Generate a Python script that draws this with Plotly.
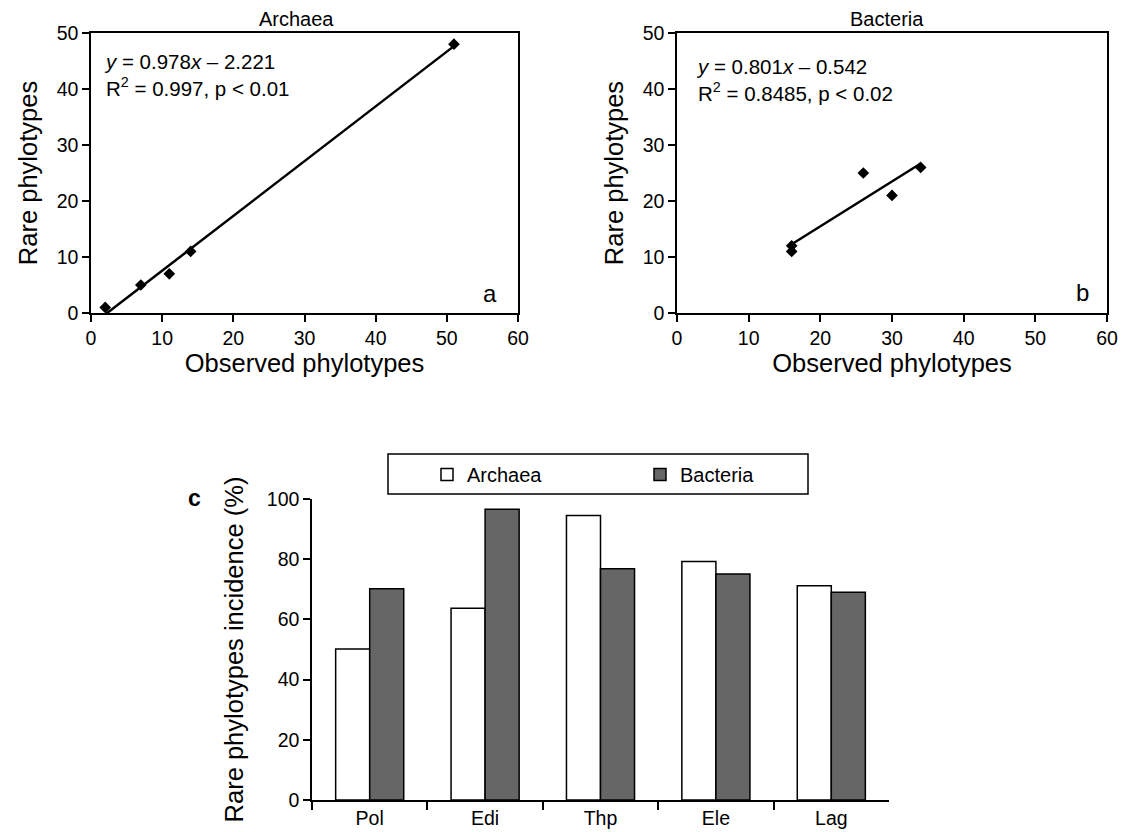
import numpy as np
import plotly.graph_objects as go

# ---- data ----
arch_obs = [2, 7, 11, 14, 51]
arch_rare = [1, 5, 7, 11, 48]
arch_slope, arch_int = 0.978, -2.221

bact_obs = [16, 16, 26, 30, 34]
bact_rare = [11, 12, 25, 21, 26]
bact_slope, bact_int = 0.801, -0.542

sites = ["Pol", "Edi", "Thp", "Ele", "Lag"]
arch_inc = [50.2, 63.7, 94.5, 79.2, 71.2]
bact_inc = [70.2, 96.6, 76.8, 75.1, 69.0]

W, H = 1129, 832
FONT = "Liberation Sans, Arial, Helvetica, sans-serif"

def px(x):
    return x / W

def py(y):
    return 1 - y / H

fig = go.Figure()

# panel a
xa = np.array([min(arch_obs), max(arch_obs)], dtype=float)
fig.add_trace(go.Scatter(x=xa, y=arch_slope * xa + arch_int, mode="lines",
                         line=dict(color="black", width=2.5), showlegend=False,
                         xaxis="x", yaxis="y"))
fig.add_trace(go.Scatter(x=arch_obs, y=arch_rare, mode="markers",
                         marker=dict(symbol="diamond", size=9, color="black"),
                         showlegend=False, xaxis="x", yaxis="y"))
# panel b
xb = np.array([min(bact_obs), max(bact_obs)], dtype=float)
fig.add_trace(go.Scatter(x=xb, y=bact_slope * xb + bact_int, mode="lines",
                         line=dict(color="black", width=2.5), showlegend=False,
                         xaxis="x2", yaxis="y2"))
fig.add_trace(go.Scatter(x=bact_obs, y=bact_rare, mode="markers",
                         marker=dict(symbol="diamond", size=9, color="black"),
                         showlegend=False, xaxis="x2", yaxis="y2"))
# panel c
fig.add_trace(go.Bar(x=sites, y=arch_inc, name="Archaea",
                     marker=dict(color="white", line=dict(color="black", width=1.5)),
                     xaxis="x3", yaxis="y3"))
fig.add_trace(go.Bar(x=sites, y=bact_inc, name="Bacteria",
                     marker=dict(color="#666666", line=dict(color="black", width=1.5)),
                     xaxis="x3", yaxis="y3"))

tickfont = dict(family=FONT, size=19.5, color="black")
titlefont = dict(family=FONT, size=25.5, color="black")

def sc_x(dom, anchor):
    return dict(domain=dom, anchor=anchor, range=[0, 60], dtick=10, tick0=0,
                automargin=False,
                showline=True, linecolor="black", linewidth=1.5, mirror=True,
                ticks="outside", ticklen=7, tickwidth=1.5, tickcolor="black",
                showgrid=False, zeroline=False, tickfont=tickfont,
                title=dict(text="Observed phylotypes", font=titlefont, standoff=4))

def sc_y(dom, anchor):
    return dict(domain=dom, anchor=anchor, range=[0, 50], dtick=10, tick0=0,
                automargin=False,
                showline=True, linecolor="black", linewidth=1.5, mirror=True,
                ticks="outside", ticklen=7, tickwidth=1.5, tickcolor="black",
                showgrid=False, zeroline=False, tickfont=tickfont,
                title=dict(text="Rare phylotypes", font=titlefont, standoff=12))

ydom_top = [py(313), py(33)]
fig.update_layout(
    width=W, height=H, margin=dict(l=0, r=0, t=0, b=0, autoexpand=False),
    paper_bgcolor="white", plot_bgcolor="white",
    font=dict(family=FONT, color="black"),
    xaxis=sc_x([px(91), px(518)], "y"),
    yaxis=sc_y(ydom_top, "x"),
    xaxis2=sc_x([px(677), px(1107)], "y2"),
    yaxis2=sc_y(ydom_top, "x2"),
    xaxis3=dict(domain=[px(312), px(889)], anchor="y3", type="category",
                automargin=False,
                tickson="boundaries", showline=True, linecolor="black", linewidth=1.5,
                ticks="outside", ticklen=8, tickwidth=1.5, tickcolor="black",
                showgrid=False, tickfont=tickfont),
    yaxis3=dict(domain=[py(800), py(499)], anchor="x3", range=[0, 100], dtick=20,
                automargin=False,
                showline=True, linecolor="black", linewidth=1.5,
                ticks="outside", ticklen=7, tickwidth=1.5, tickcolor="black",
                showgrid=False, zeroline=False, tickfont=tickfont,
                title=dict(text="Rare phylotypes incidence (%)", font=titlefont, standoff=16)),
    barmode="group", bargap=0.41, bargroupgap=0,
    showlegend=True,
    legend=dict(orientation="h", x=px(427), y=py(455), xanchor="left", yanchor="top",
                font=dict(family=FONT, size=20, color="black"),
                entrywidth=168, entrywidthmode="pixels", bgcolor="rgba(0,0,0,0)",
                traceorder="normal"),
)

anns = [
    dict(text="Archaea", x=px(296), y=py(19), font=dict(size=20)),
    dict(text="Bacteria", x=px(887), y=py(19), font=dict(size=20)),
    dict(text="<i>y</i> = 0.978<i>x</i> – 2.221<br>R<sup>2</sup> = 0.997, p &lt; 0.01",
         x=px(102), y=py(75), xanchor="left", align="left", font=dict(size=20.5)),
    dict(text="<i>y</i> = 0.801<i>x</i> – 0.542<br>R<sup>2</sup> = 0.8485, p &lt; 0.02",
         x=px(694), y=py(80), xanchor="left", align="left", font=dict(size=20.5)),
    dict(text="a", x=px(490), y=py(293), font=dict(size=24)),
    dict(text="b", x=px(1082), y=py(292), font=dict(size=24)),
    dict(text="<b>c</b>", x=px(194), y=py(498), font=dict(size=23)),
]
for a in anns:
    a.setdefault("xanchor", "center")
    a.setdefault("yanchor", "middle")
    a["xref"] = "paper"
    a["yref"] = "paper"
    a["showarrow"] = False
    a["font"] = dict(family=FONT, color="black", **a["font"])
fig.update_layout(annotations=anns)

# legend border box
fig.add_shape(type="rect", xref="paper", yref="paper",
              x0=px(388), x1=px(808), y0=py(494), y1=py(454),
              line=dict(color="black", width=1.5), fillcolor="rgba(0,0,0,0)")

fig.write_html("out.html", config={"displayModeBar": False},
               post_script="document.body.style.margin='0';")
